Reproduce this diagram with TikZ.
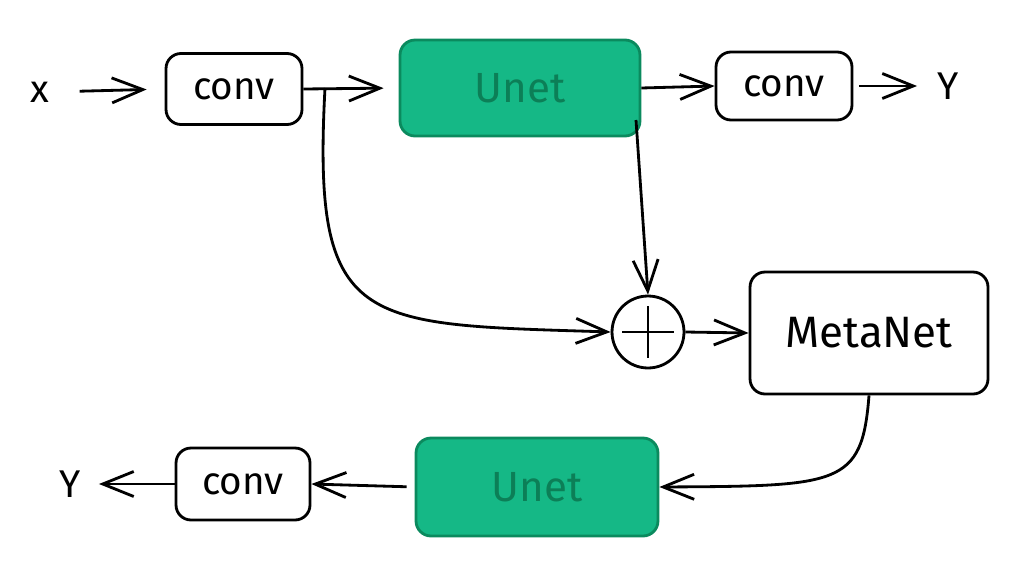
\documentclass[tikz,border=0pt]{standalone}
\usepackage{fontspec}
\setmainfont{Fira Sans}
\usetikzlibrary{arrows.meta}
\definecolor{unetfill}{HTML}{15B886}
\definecolor{unetline}{HTML}{0B8A5E}
\definecolor{unettext}{HTML}{0C7F57}
\tikzset{
  px/.style={x=0.02cm,y=-0.02cm},
  box/.style={draw=black,line width=1.6pt,rounded corners=0.3cm,fill=white,
              font=\fontsize{22}{25}\selectfont,inner sep=0pt},
  unetbox/.style={box,fill=unetfill,draw=unetline,text=unettext,
              font=\fontsize{24}{27}\selectfont},
  lbl/.style={font=\fontsize{22}{24}\selectfont,inner sep=0pt},
  sumnode/.style={circle,draw=black,line width=1.6pt,minimum size=1.44cm,inner sep=0pt},
  arr/.style={line width=1.6pt,-{Straight Barb[length=0.62cm,width=0.5cm,line width=1.6pt]}},
}
\begin{document}
\begin{tikzpicture}[px]
\useasboundingbox (0,0) rectangle (1020,568);

% top row
\node[lbl] (xin) at (40,92) {x};
\node[box,minimum width=2.72cm,minimum height=1.42cm] (conv1) at (234,89) {conv};
\node[unetbox,minimum width=4.8cm,minimum height=1.92cm] (unet1) at (520,88) {Unet};
\node[box,minimum width=2.72cm,minimum height=1.36cm] (conv2) at (784,86) {conv};
\node[lbl] (yout1) at (948,86) {Y};

% middle row
\node[sumnode] (sum) at (648,332) {};
\draw[line width=1.6pt] (sum.center) ++(0,-26) -- ++(0,52);
\draw[line width=1.6pt] (sum.center) ++(-26,0) -- ++(52,0);
\node[box,minimum width=4.76cm,minimum height=2.44cm,font=\fontsize{25}{28}\selectfont] (meta) at (869,333) {MetaNet};

% bottom row
\node[unetbox,minimum width=4.84cm,minimum height=1.96cm] (unet2) at (537,487) {Unet};
\node[box,minimum width=2.68cm,minimum height=1.44cm] (conv3) at (243,484) {conv};
\node[lbl] (yout2) at (70,484) {Y};

% split points on the connectors
\coordinate (tap) at (325,88);
\coordinate (unetout) at (636,120);

% connectors
\draw[arr,shorten <=0.6cm,shorten >=0.36cm] (xin.east) -- (conv1.west);
\draw[arr,shorten >=0.3cm] (conv1.east) -- (unet1.west);
\draw[arr] (unet1.east) -- (conv2.west);
\draw[arr,shorten <=0.12cm,shorten >=0.4cm] (conv2.east) -- (yout1.west);
\draw[arr] (unetout) -- (sum.north);
\draw[arr] (tap) .. controls (312,330) and (360,324) .. (sum.west);
\draw[arr] (sum.east) -- (meta.west);
\draw[arr] (meta.south) .. controls (862,486) and (840,486) .. (unet2.east);
\draw[arr,shorten <=0.16cm] (unet2.west) -- (conv3.east);
\draw[arr,shorten >=0.36cm] (conv3.west) -- (yout2.east);
\end{tikzpicture}
\end{document}
